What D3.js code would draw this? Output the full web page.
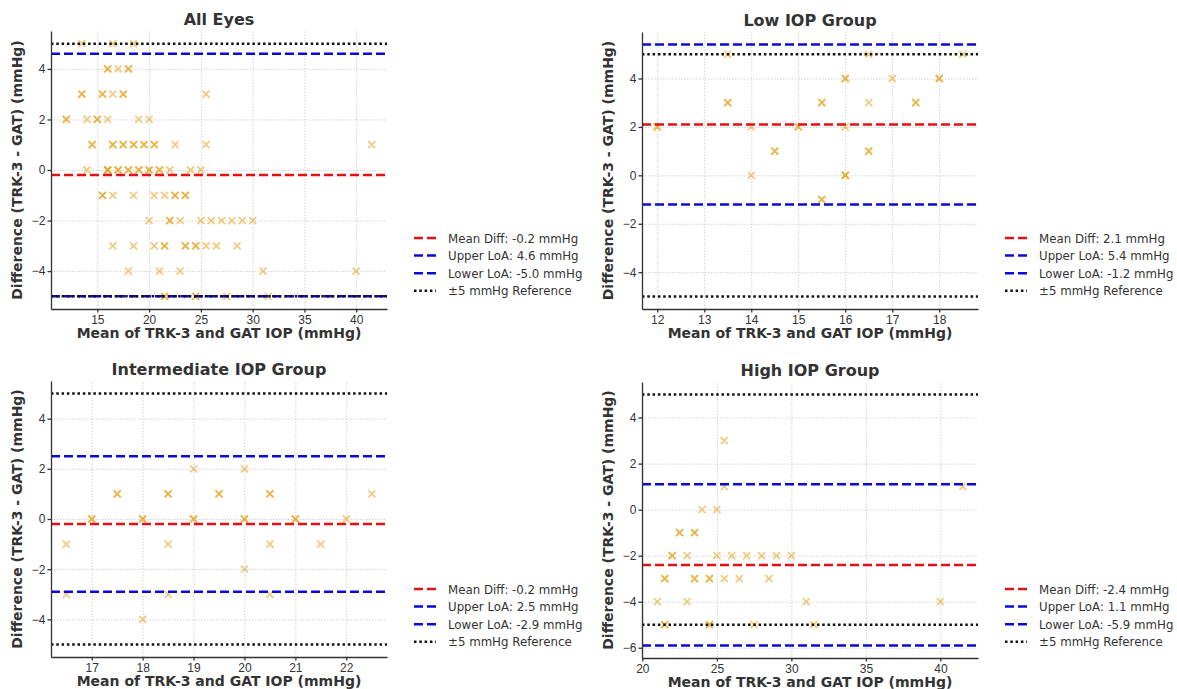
<!DOCTYPE html>
<html>
<head>
<meta charset="utf-8">
<script src="https://cdn.jsdelivr.net/npm/d3@7"></script>
<style>
  body { margin: 0; background: #fff; }
  svg { font-family: 'DejaVu Sans', sans-serif; }
  .grid line { stroke: #c8c8c8; stroke-width: 0.8; stroke-dasharray: 1.5, 1.5; }
  .grid path { display: none; }
  .axis path, .axis line { stroke: #333; stroke-width: 1.3; }
  .axis text { fill: #333; font-size: 12px; }
</style>
</head>
<body>
<div id="chart"></div>
<script>
// points are [mean IOP, difference, how many eyes share the spot]
const lowGroup = [
  [12, 2, 2], [13.5, 5, 1], [13.5, 3, 2], [14, 2, 1], [14, 0, 1], [14.5, 1, 2],
  [15, 2, 2], [15.5, 3, 2], [15.5, -1, 2], [16, 4, 2], [16, 2, 1], [16, 0, 3],
  [16.5, 5, 1], [16.5, 3, 1], [16.5, 1, 2], [17, 4, 1], [17.5, 3, 2], [18, 4, 2],
  [18.5, 5, 1],
];

const intermediateGroup = [
  [16.5, -1, 1], [16.5, -3, 1], [17, 0, 2], [17.5, 1, 2], [18, 0, 2], [18, -4, 1],
  [18.5, 1, 2], [18.5, -1, 1], [18.5, -3, 1], [19, 2, 1], [19, 0, 2], [19.5, 1, 2],
  [20, 2, 1], [20, 0, 2], [20, -2, 1], [20.5, 1, 2], [20.5, -1, 1], [20.5, -3, 1],
  [21, 0, 2], [21.5, -1, 1], [22, 0, 1], [22.5, 1, 1],
];

const highGroup = [
  [25.5, 3, 1], [25.5, 1, 1], [41.5, 1, 1], [24, 0, 1], [25, 0, 1],
  [22.5, -1, 2], [23.5, -1, 2],
  [22, -2, 2], [23, -2, 1], [25, -2, 1], [26, -2, 1], [27, -2, 1], [28, -2, 1],
  [29, -2, 1], [30, -2, 1],
  [21.5, -3, 2], [23.5, -3, 2], [24.5, -3, 2], [25.5, -3, 1], [26.5, -3, 1], [28.5, -3, 1],
  [21, -4, 1], [23, -4, 1], [31, -4, 1], [40, -4, 1],
  [21.5, -5, 2], [24.5, -5, 2], [27.5, -5, 1], [31.5, -5, 1],
];

const allEyes = lowGroup.concat(intermediateGroup, highGroup);

const titles = ['All Eyes', 'Low IOP Group', 'Intermediate IOP Group', 'High IOP Group'];
const meanDiff = [-0.2, 2.1, -0.2, -2.4];
const upperLoA = [4.6, 5.4, 2.5, 1.1];
const lowerLoA = [-5.0, -1.2, -2.9, -5.9];
const refLimit = 5;

const xTicks = [
  [15, 20, 25, 30, 35, 40],
  [12, 13, 14, 15, 16, 17, 18],
  [17, 18, 19, 20, 21, 22],
  [20, 25, 30, 35, 40],
];
const yTicks = [
  [-4, -2, 0, 2, 4],
  [-4, -2, 0, 2, 4],
  [-4, -2, 0, 2, 4],
  [-6, -4, -2, 0, 2, 4],
];

const groups = [allEyes, lowGroup, intermediateGroup, highGroup];

// panel boxes in page pixels
const panels = [
  { left: 51, top: 31, width: 336, height: 278, legendX: 414, legendY: 238 },
  { left: 642, top: 32, width: 336, height: 277, legendX: 1005, legendY: 238 },
  { left: 51, top: 381, width: 336, height: 276, legendX: 414, legendY: 589 },
  { left: 642, top: 382, width: 336, height: 276, legendX: 1005, legendY: 589 },
];

const fmt = d => (d < 0 ? '\u2212' + Math.abs(d) : String(d));
const fmtLegend = d => d.toFixed(1);

const svg = d3.select('#chart')
  .append('svg')
  .attr('width', 1177)
  .attr('height', 689);

svg.append('rect').attr('width', 1177).attr('height', 689).attr('fill', '#fff');

const pad = ([lo, hi]) => {
  const m = (hi - lo) * 0.05;
  return [lo - m, hi + m];
};

const lineStyles = {
  mean: { color: '#e60f14', dash: '9,4' },
  upper: { color: '#0a0ad8', dash: '9,4' },
  lower: { color: '#0a0ad8', dash: '9,4' },
  ref: { color: '#111', dash: '2.5,2.8' },
};

panels.forEach((p, i) => {
  const data = groups[i];
  const lines = [
    { key: 'mean', value: meanDiff[i] },
    { key: 'upper', value: upperLoA[i] },
    { key: 'lower', value: lowerLoA[i] },
    { key: 'ref', value: refLimit },
    { key: 'ref', value: -refLimit },
  ];

  // Set the ranges, matplotlib style 5% margins
  const x = d3.scaleLinear()
    .domain(pad(d3.extent(data, d => d[0])))
    .range([0, p.width]);
  const yVals = data.map(d => d[1]).concat(lines.map(l => l.value));
  const y = d3.scaleLinear()
    .domain(pad(d3.extent(yVals)))
    .range([p.height, 0]);

  const g = svg.append('g')
    .attr('transform', `translate(${p.left}, ${p.top})`);

  // gridlines
  g.append('g')
    .attr('class', 'grid')
    .attr('transform', `translate(0, ${p.height})`)
    .call(d3.axisBottom(x).tickValues(xTicks[i]).tickSize(-p.height).tickFormat(''));
  g.append('g')
    .attr('class', 'grid')
    .call(d3.axisLeft(y).tickValues(yTicks[i]).tickSize(-p.width).tickFormat(''));

  // the x markers, one per eye
  const marks = [];
  data.forEach(d => {
    for (let k = 0; k < d[2]; k += 1) marks.push(d);
  });
  g.append('g')
    .selectAll('path')
    .data(marks)
    .join('path')
    .attr('transform', d => `translate(${x(d[0])}, ${y(d[1])})`)
    .attr('d', 'M-3.5,-3.5L3.5,3.5M-3.5,3.5L3.5,-3.5')
    .attr('stroke', '#e3a31c')
    .attr('stroke-opacity', 0.55)
    .attr('stroke-width', 1.8)
    .attr('fill', 'none');

  // reference lines
  g.append('g')
    .selectAll('line')
    .data(lines)
    .join('line')
    .attr('x1', 0)
    .attr('x2', p.width)
    .attr('y1', d => y(d.value))
    .attr('y2', d => y(d.value))
    .attr('stroke', d => lineStyles[d.key].color)
    .attr('stroke-width', 2.5)
    .attr('stroke-dasharray', d => lineStyles[d.key].dash);

  // Add the X Axis
  g.append('g')
    .attr('class', 'x axis')
    .attr('transform', `translate(0, ${p.height})`)
    .call(d3.axisBottom(x).tickValues(xTicks[i]).tickFormat(fmt)
      .tickSize(3.5).tickSizeOuter(0).tickPadding(2.5));

  // Add the Y Axis
  g.append('g')
    .attr('class', 'y axis')
    .call(d3.axisLeft(y).tickValues(yTicks[i]).tickFormat(fmt)
      .tickSize(3.5).tickSizeOuter(0).tickPadding(2));

  // title and labels
  g.append('text')
    .attr('x', p.width / 2)
    .attr('y', -6)
    .attr('text-anchor', 'middle')
    .attr('font-size', 16)
    .attr('font-weight', 'bold')
    .attr('fill', '#333')
    .text(titles[i]);

  g.append('text')
    .attr('x', p.width / 2)
    .attr('y', p.height + 29)
    .attr('text-anchor', 'middle')
    .attr('font-size', 14)
    .attr('font-weight', 'bold')
    .attr('fill', '#333')
    .text('Mean of TRK-3 and GAT IOP (mmHg)');

  g.append('text')
    .attr('transform', `translate(-29, ${p.height / 2}) rotate(-90)`)
    .attr('text-anchor', 'middle')
    .attr('font-size', 14)
    .attr('font-weight', 'bold')
    .attr('fill', '#333')
    .text('Difference (TRK-3 - GAT) (mmHg)');

  // legend
  const legendItems = [
    { key: 'mean', label: `Mean Diff: ${fmtLegend(meanDiff[i])} mmHg` },
    { key: 'upper', label: `Upper LoA: ${fmtLegend(upperLoA[i])} mmHg` },
    { key: 'lower', label: `Lower LoA: ${fmtLegend(lowerLoA[i])} mmHg` },
    { key: 'ref', label: '\u00b15 mmHg Reference' },
  ];
  const leg = svg.append('g')
    .attr('transform', `translate(${p.legendX}, ${p.legendY})`);
  const row = leg.selectAll('g')
    .data(legendItems)
    .join('g')
    .attr('transform', (d, k) => `translate(0, ${k * 17.6})`);
  row.append('line')
    .attr('x1', 0)
    .attr('x2', 22)
    .attr('stroke', d => lineStyles[d.key].color)
    .attr('stroke-width', 2.5)
    .attr('stroke-dasharray', d => lineStyles[d.key].dash);
  row.append('text')
    .attr('x', 34)
    .attr('y', 4.5)
    .attr('font-size', 11.8)
    .attr('fill', '#333')
    .text(d => d.label);
});
</script>
</body>
</html>
